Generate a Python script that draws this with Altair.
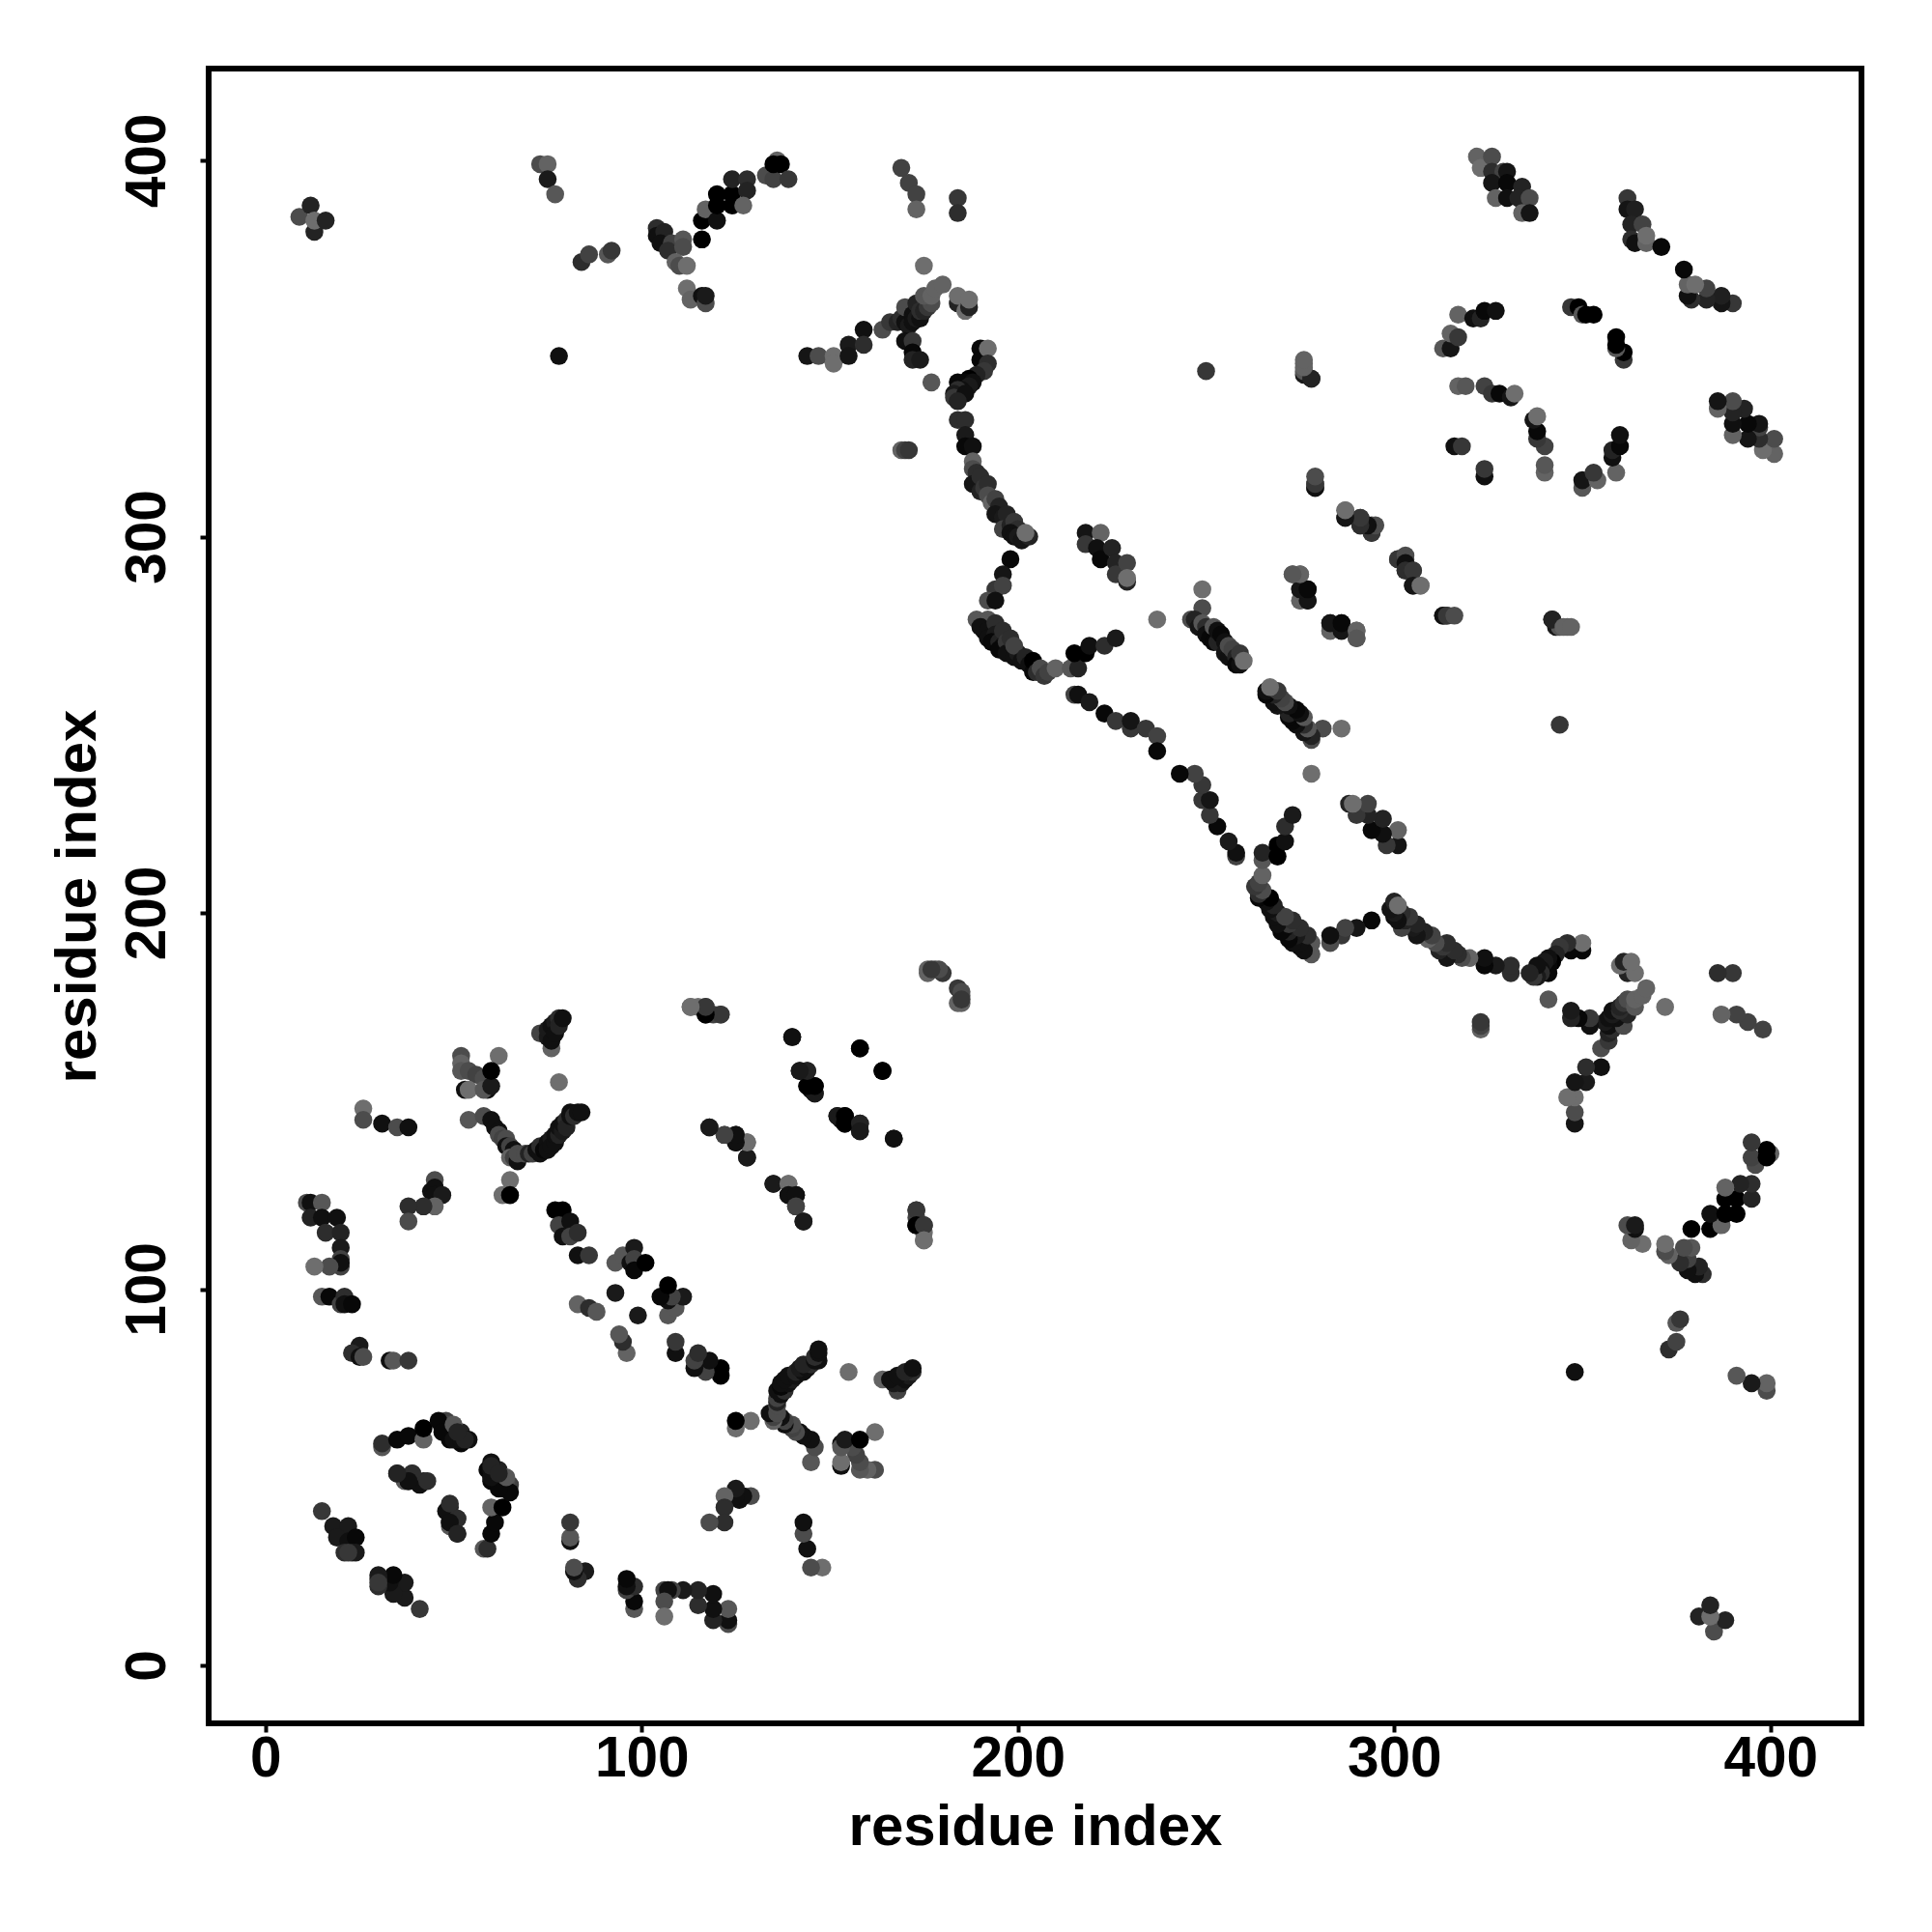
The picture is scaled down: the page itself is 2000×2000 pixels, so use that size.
import altair as alt
import pandas as pd

# Contact map: each (i, j, s) is residue i, residue j (i < j) and a grey level s (0 black .. 100 mid grey).
tick_values = [0, 100, 200, 300, 400]
axis_title = "residue index"

near_75_170 = [(76,164,90),(73,168,60),(75,167,20),(75,169,20),(76,170,10),(76,166,10),(77,171,20),(77,168,10),(78,172,40),(78,170,30),(79,172,10),(78,155,100)]
near_115_175 = [(113,175,100),(115,175,100),(117,173,10),(117,175,60),(119,173,60),(121,173,60)]
near_55_158 = [(62,162,100),(52,162,70),(52,160,90),(52,158,80),(54,158,70),(56,157,60),(53,153,10),(54,153,100),(58,156,70),(59,153,10),(58,153,80),(60,154,20),(60,158,0)]
near_30_145 = [(26,148,100),(26,145,70),(31,144,10),(35,143,70),(38,143,10)]
v_left = [(54,145,80),(58,146,70),(60,145,10),(61,143,10),(62,142,10),(62,141,70),(63,140,60),(64,140,70),(64,138,10),(65,138,60),(66,137,10),(65,135,90),(66,135,60),(67,134,10),(67,136,70)]
v_right = [(69,136,70),(70,136,30),(71,136,60),(72,137,10),(73,136,10),(73,138,40),(74,137,5),(75,139,10),(75,137,10),(76,140,20),(76,138,10),(77,139,10),(77,141,10),(78,141,30),(78,143,10),(79,142,20),(79,144,10),(80,145,40),(80,143,30),(81,146,10),(81,147,10),(82,146,40),(83,147,10),(84,147,10)]
near_65_127 = [(65,129,100),(63,125,100),(65,125,0)]
near_42_125 = [(45,129,70),(44,126,10),(45,127,10),(45,125,10),(47,125,20),(45,122,90),(42,122,40),(38,122,40),(38,118,70)]
near_15_115 = [(11,123,70),(12,123,10),(15,123,80),(12,119,30),(15,119,10),(19,119,10),(16,115,40),(20,115,30),(20,111,20),(20,106,60),(20,108,60),(20,107,10),(17,106,70),(13,106,100)]
near_18_97 = [(15,98,80),(17,98,5),(20,96,60),(21,98,40),(21,96,10),(23,96,5)]
near_25_82 = [(25,85,20),(23,83,40),(25,82,10),(26,82,70),(33,81,10),(34,81,80),(38,81,50)]
near_80_115 = [(77,121,0),(79,121,0),(78,117,60),(79,114,10),(81,118,10),(81,114,60),(83,115,40),(83,109,10),(86,109,50)]
near_97_108 = [(93,107,80),(95,109,80),(98,111,20),(97,107,10),(98,108,60),(98,105,5),(101,107,0),(93,99,20),(83,96,90),(86,95,40),(88,94,80)]
near_40_60 = [(31,58,80),(31,59,40),(35,60,5),(38,61,5),(42,60,90),(42,63,0),(47,63,5),(48,65,60),(49,60,5),(49,64,70),(52,59,5),(52,62,30),(54,60,10)]
near_38_50 = [(35,51,30),(39,51,60),(37,49,80),(38,49,5),(42,49,30),(41,48,10)]
near_48_62 = [(46,65,5),(47,62,5),(50,60,10),(50,64,80),(52,60,10),(53,60,30),(51,62,30)]
near_40_48 = [(39,51,40),(38,49,10),(43,49,40),(35,51,30)]
near_20_35 = [(15,41,50),(18,37,20),(22,37,20),(19,34,20),(22,33,10),(24,34,5),(21,30,40),(23,30,30),(24,30,20),(22,30,50)]
near_140_160 = [(140,167,10),(158,164,0),(164,158,0),(142,158,20),(144,158,30),(144,154,5),(145,153,5),(146,154,0),(146,152,20)]
near_155_145 = [(152,146,20),(154,146,0),(154,144,0),(158,144,30),(158,142,20),(167,140,10)]
near_122_140 = [(118,143,20),(122,141,50),(125,141,20),(125,139,20),(128,139,100),(128,135,20)]
near_139_124 = [(135,128,20),(139,128,100),(139,125,10),(141,125,10),(141,122,60),(143,118,20)]
near_174_117 = [(173,121,50),(173,117,0),(175,117,50),(175,113,100)]
near_178_184 = [(176,184,90),(178,185,70),(180,184,50),(185,179,70),(185,176,90),(185,177,50)]
far_12_384 = [(9,385,70),(12,388,30),(13,381,30),(13,384,100),(16,384,30)]
far_75_395 = [(73,399,70),(75,399,90),(75,395,20),(77,391,80)]
far_88_375 = [(84,373,40),(86,375,60),(91,375,80),(92,376,50)]
far_108_377 = [(104,382,40),(104,380,10),(106,381,30),(105,378,10),(108,378,60),(107,376,40),(111,379,80),(111,377,70),(109,373,90),(110,372,70),(112,372,100),(116,379,0)]
far_115_364 = [(112,366,100),(113,363,90),(116,364,10),(117,362,70),(117,364,20),(78,348,10)]
far_122_390 = [(116,384,0),(117,387,90),(120,384,10),(120,388,0),(120,391,0),(124,388,0),(124,391,0),(124,395,30),(128,395,40),(128,392,30),(127,388,90)]
far_135_397 = [(133,396,70),(136,400,90),(135,395,60),(135,399,0),(137,399,0),(139,395,50)]
far_170_392 = [(169,398,60),(171,394,60),(173,391,60),(173,387,90),(184,390,50),(184,386,40)]
ridge_a = [(144,348,15),(147,348,70),(151,348,100),(151,346,100),(155,351,20),(155,348,15),(159,355,10),(159,351,40),(164,355,70),(166,357,50),(168,357,30),(169,358,40),(170,357,10),(171,356,20),(170,361,70),(172,359,10),(172,357,10),(173,358,20),(174,358,10),(173,362,30),(174,360,40),(175,360,30),(176,361,50),(177,362,70),(175,364,80),(177,364,90),(178,366,90),(180,367,90),(175,372,100)]
ridge_b = [(184,362,30),(184,364,100),(186,360,100),(187,361,30),(187,363,100)]
ridge_c = [(170,352,10),(172,352,50),(172,349,5),(172,347,30),(174,347,20),(177,341,80)]
ridge_d = [(190,350,5),(190,347,5),(192,350,100),(192,346,40),(191,344,50),(188,342,10),(189,343,30),(187,342,0),(186,341,5),(188,341,10),(185,340,10),(184,341,5),(187,340,20),(185,339,10),(184,339,40),(183,338,20),(183,337,50),(186,338,10),(184,336,30)]
ridge_e = [(184,331,40),(186,331,40),(186,327,20),(186,324,5),(188,324,10),(169,323,90),(170,323,60),(171,323,50)]
ridge_f = [(188,320,90),(188,318,70),(189,317,40),(188,314,15),(190,316,40),(190,312,30),(191,313,50),(192,314,40),(192,311,70),(193,309,90),(194,310,60),(195,308,30),(194,306,15),(196,305,20),(197,306,30),(196,302,60),(198,303,30),(199,304,50),(200,302,40),(198,301,10),(199,300,10),(200,300,20),(201,299,15),(203,300,30),(202,301,100),(250,344,50)]
ridge_g = [(198,294,5),(196,290,15),(194,286,50),(196,287,60),(192,283,70),(194,283,10)]
ridge_h = [(189,278,80),(192,278,80),(191,275,5),(190,276,10),(192,275,10),(192,273,10),(194,277,40),(194,274,20),(193,272,5),(195,272,30),(196,275,40),(196,271,10),(195,270,5),(197,272,50),(197,269,10),(198,273,40),(199,268,10),(200,269,20),(199,271,60),(201,267,10),(202,268,30),(203,266,10),(204,264,5),(204,267,0),(205,264,40),(206,265,70),(207,263,50),(208,264,60),(210,265,90)]
ridge_i = [(214,265,80),(216,265,30),(215,269,0),(218,269,0),(219,271,10),(223,271,40),(226,273,20)]
patch_222_295 = [(218,301,15),(218,298,50),(222,301,90),(221,297,10),(222,294,5),(225,297,30),(226,293,30),(226,290,50),(229,293,60),(229,288,30),(229,289,100)]
chain_down = [(215,258,60),(216,258,10),(219,256,20),(223,253,5),(226,251,50),(230,249,50),(230,251,15),(234,249,50),(237,247,60),(237,243,5)]
strip_255_272 = [(249,286,100),(249,281,70),(246,278,70),(247,278,30),(237,278,100),(248,276,15),(249,277,80),(250,276,40),(250,274,10),(251,273,5),(252,276,80),(252,272,5),(253,272,30),(253,275,10),(254,274,5),(255,272,10),(255,269,15),(256,268,10),(256,271,70),(257,270,60),(258,268,30),(258,266,5),(259,266,10),(259,269,50),(260,267,100)]
strip_275_287 = [(273,290,90),(275,290,90),(275,283,90),(277,283,15),(275,286,5),(277,286,5),(283,275,90),(283,277,15),(286,275,15),(286,277,5),(290,275,90),(290,273,80)]
strip_290_304 = [(287,307,90),(287,305,15),(291,305,50),(291,303,50),(293,303,0),(294,301,70),(294,303,80)]
strip_303_292 = [(301,294,50),(303,295,70),(303,293,10),(303,291,40),(305,291,50),(305,287,15),(307,287,100),(313,279,90),(314,279,50)]
strip_278 = [(276,346,90),(276,343,20),(276,344,80),(278,342,30),(279,313,90),(279,313,10),(279,314,50),(279,316,70),(342,278,30),(345,276,90),(347,276,90)]
top_330_393 = [(322,401,90),(323,398,100),(326,401,70),(326,397,40),(329,397,60),(330,397,15),(326,394,15),(330,394,5),(327,390,90),(330,390,10),(334,393,30),(333,390,30),(336,390,70),(334,386,90),(336,386,15)]
top_365_384 = [(362,390,50),(362,387,15),(364,387,25),(363,383,30),(366,383,60),(363,379,40),(364,378,10),(367,378,90),(367,380,100),(371,377,5)]
ring_320_355 = [(313,350,80),(315,350,15),(315,354,90),(317,353,50),(317,359,90),(321,358,10),(323,358,30),(324,360,5),(327,360,10)]
ring_350_360 = [(347,361,50),(349,361,0),(350,359,80),(351,359,0),(353,359,0)]
ring_325_339 = [(317,340,90),(319,340,80),(324,340,60),(326,338,50),(328,338,5),(331,337,15),(332,338,100),(316,324,10),(318,324,50)]

clusters = [near_75_170, near_115_175, near_55_158, near_30_145, v_left, v_right, near_65_127,
            near_42_125, near_15_115, near_18_97, near_25_82, near_80_115, near_97_108,
            near_40_60, near_38_50, near_48_62, near_40_48, near_20_35, near_140_160,
            near_155_145, near_122_140, near_139_124, near_174_117, near_178_184,
            far_12_384, far_75_395, far_88_375, far_108_377, far_115_364, far_122_390,
            far_135_397, far_170_392, ridge_a, ridge_b, ridge_c, ridge_d, ridge_e, ridge_f,
            ridge_g, ridge_h, ridge_i, patch_222_295, chain_down, strip_255_272,
            strip_275_287, strip_290_304, strip_303_292, strip_278, top_330_393,
            top_365_384, ring_320_355, ring_350_360, ring_325_339]

rows = []
for cluster in clusters:
    for i, j, s in cluster:
        rows.append({"a": i, "b": j, "shade": s})
        rows.append({"a": j, "b": i, "shade": s})
df = pd.DataFrame(rows)
df["order"] = range(len(df))

FONT = "Liberation Sans"

chart = (
    alt.Chart(df)
    .mark_circle(size=345, opacity=1)
    .encode(
        x=alt.X(
            "a:Q",
            scale=alt.Scale(domain=[-15.1, 424.2], nice=False, zero=False),
            axis=alt.Axis(
                values=tick_values, title=axis_title, grid=False, domain=False,
                tickSize=9, tickWidth=4, tickColor="black",
                labelFont=FONT, labelFontSize=58.5, labelFontWeight="bold", labelColor="black",
                labelBaseline="alphabetic", labelPadding=45, labelFlush=False, labelOverlap=False,
                titleFont=FONT, titleFontSize=60, titleFontWeight="bold", titleColor="black",
                titleBaseline="alphabetic", titleAlign="center", titleX=855.5, titleY=125,
            ),
        ),
        y=alt.Y(
            "b:Q",
            scale=alt.Scale(domain=[-15.4, 424.4], nice=False, zero=False),
            axis=alt.Axis(
                values=tick_values, title=axis_title, grid=False, domain=False,
                tickSize=9, tickWidth=4, tickColor="black",
                labelFont=FONT, labelFontSize=58.5, labelFontWeight="bold", labelColor="black",
                labelAngle=270, labelAlign="center", labelBaseline="alphabetic", labelPadding=37,
                labelFlush=False, labelOverlap=False,
                titleFont=FONT, titleFontSize=60, titleFontWeight="bold", titleColor="black",
                titleAngle=270, titleBaseline="alphabetic", titleAlign="center", titleX=-118, titleY=856.5,
            ),
        ),
        color=alt.Color(
            "shade:Q",
            scale=alt.Scale(domain=[0, 100], range=["#000000", "#6e6e6e"]),
            legend=None,
        ),
        order=alt.Order("order:Q"),
    )
    .properties(
        width=1711, height=1713,
        background="white",
        autosize=alt.AutoSizeParams(type="none"),
        padding={"left": 208, "top": 63, "right": 60, "bottom": 190},
    )
    .configure_view(stroke="black", strokeWidth=6)
)

chart.save("out.html", embed_options={"renderer": "svg", "actions": False})
